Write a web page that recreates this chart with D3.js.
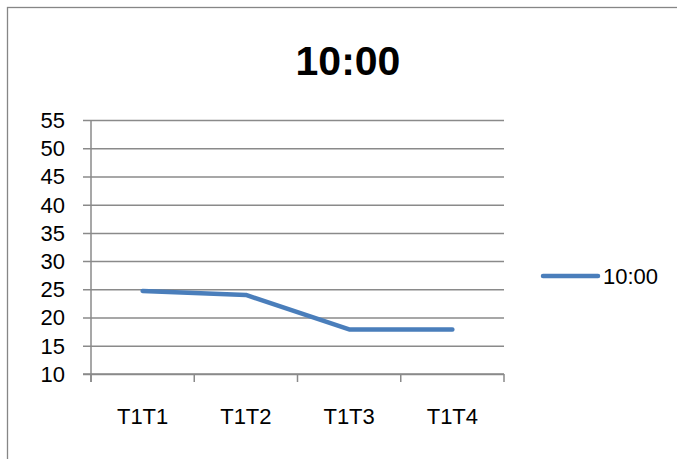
<!DOCTYPE html>
<html>
<head>
<meta charset="utf-8">
<script src="https://cdn.jsdelivr.net/npm/d3@7"></script>
<style>
  html, body { margin: 0; padding: 0; background: #fff; }
  svg { display: block; font-family: "Liberation Sans", Arial, sans-serif; }
</style>
</head>
<body>
<svg id="chart" width="677" height="459"></svg>
<script>
// Chart data
const title = "10:00";
const seriesName = "10:00";
const categories = ["T1T1", "T1T2", "T1T3", "T1T4"];
const values = [24.7, 24.0, 17.9, 17.9];
const yTicks = [10, 15, 20, 25, 30, 35, 40, 45, 50, 55];

const svg = d3.select("#chart");
const W = 677, H = 459;
const plot = { left: 91, right: 504, top: 120, bottom: 374 };
const gridColor = "#8a8a8a";
const lineColor = "#4a7ebb";

// Outer chart frame (runs past the right and bottom edges)
svg.append("rect")
  .attr("x", 7.5).attr("y", 7.5)
  .attr("width", W + 20).attr("height", H + 20)
  .attr("fill", "#fff")
  .attr("stroke", "#868686").attr("stroke-width", 1.3);

const x = d3.scaleBand().domain(categories).range([plot.left, plot.right]).padding(0);
const y = d3.scaleLinear().domain([10, 55]).range([plot.bottom, plot.top]);

// Horizontal gridlines with outer tick marks
const yAxis = d3.axisLeft(y)
  .tickValues(yTicks)
  .tickSize(-(plot.right - plot.left))
  .tickFormat("");
const gy = svg.append("g").attr("transform", `translate(${plot.left},0)`).call(yAxis);
gy.select(".domain").remove();
gy.selectAll(".tick line")
  .attr("x1", -8)
  .attr("stroke", gridColor).attr("stroke-width", 1.5);

// Y tick labels
svg.append("g").selectAll("text")
  .data(yTicks).join("text")
  .attr("x", 65)
  .attr("y", d => y(d) + 7.9)
  .attr("text-anchor", "end")
  .attr("font-size", 22)
  .attr("fill", "#000")
  .text(d => d);

// Vertical axis line
svg.append("line")
  .attr("x1", plot.left).attr("x2", plot.left)
  .attr("y1", plot.top).attr("y2", plot.bottom + 8)
  .attr("stroke", gridColor).attr("stroke-width", 1.5);

// Category axis
const xAxis = d3.axisBottom(x).tickSize(0).tickFormat("");
const gx = svg.append("g").attr("transform", `translate(0,${plot.bottom})`).call(xAxis);
gx.select(".domain").remove();
gx.selectAll(".tick").remove();
gx.append("line")
  .attr("x1", plot.left - 8).attr("x2", plot.right)
  .attr("stroke", gridColor).attr("stroke-width", 1.5);
const boundaries = categories.map(c => x(c)).concat([x(categories[categories.length - 1]) + x.bandwidth()]);
gx.selectAll("line.cat-tick")
  .data(boundaries).join("line")
  .attr("class", "cat-tick")
  .attr("x1", d => d).attr("x2", d => d)
  .attr("y1", 0).attr("y2", 8)
  .attr("stroke", gridColor).attr("stroke-width", 1.5);

// Category labels
svg.append("g").selectAll("text")
  .data(categories).join("text")
  .attr("x", d => x(d) + x.bandwidth() / 2)
  .attr("y", 424)
  .attr("text-anchor", "middle")
  .attr("font-size", 22)
  .attr("fill", "#000")
  .text(d => d);

// Series line
const line = d3.line()
  .x((d, i) => x(categories[i]) + x.bandwidth() / 2)
  .y(d => y(d));
svg.append("path")
  .datum(values)
  .attr("d", line)
  .attr("fill", "none")
  .attr("stroke", lineColor)
  .attr("stroke-width", 4.5)
  .attr("stroke-linecap", "round")
  .attr("stroke-linejoin", "round");

// Title
svg.append("text")
  .attr("x", 348).attr("y", 75)
  .attr("text-anchor", "middle")
  .attr("font-size", 41)
  .attr("font-weight", "bold")
  .attr("fill", "#000")
  .text(title);

// Legend
const legend = svg.append("g").attr("transform", "translate(543,276)");
legend.append("line")
  .attr("x1", 0).attr("x2", 55)
  .attr("stroke", lineColor).attr("stroke-width", 4.5)
  .attr("stroke-linecap", "round");
legend.append("text")
  .attr("x", 60).attr("y", 8)
  .attr("font-size", 22)
  .attr("fill", "#000")
  .text(seriesName);
</script>
</body>
</html>
